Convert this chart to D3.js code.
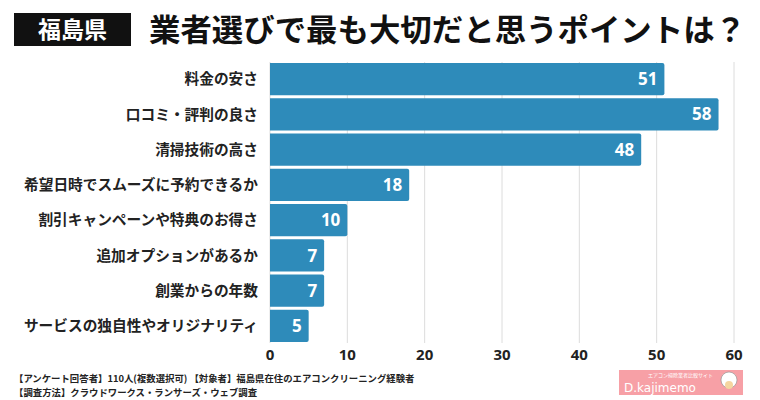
<!DOCTYPE html>
<html><head><meta charset="utf-8">
<script src="https://cdn.jsdelivr.net/npm/d3@7"></script>
<style>body{margin:0;background:#fff;}svg{display:block;font-family:"Noto Sans CJK JP","Noto Sans",sans-serif;}</style>
</head><body><svg id="c" width="760" height="400"></svg>
<script>
const categories = ["料金の安さ","口コミ・評判の良さ","清掃技術の高さ","希望日時でスムーズに予約できるか","割引キャンペーンや特典のお得さ","追加オプションがあるか","創業からの年数","サービスの独自性やオリジナリティ"];
const values = [51,58,48,18,10,7,7,5];
const xTicks = [0,10,20,30,40,50,60];
const badgeText = "福島県";
const titleText = "業者選びで最も大切だと思うポイントは？";
const footnotes = ["【アンケート回答者】110人(複数選択可) 【対象者】福島県在住のエアコンクリーニング経験者","【調査方法】クラウドワークス・ランサーズ・ウェブ調査"];

const svg = d3.select("#c");
const x = d3.scaleLinear().domain([0,60]).range([270,734]);
const y = d3.scaleBand().domain(categories).range([62,343]).paddingInner(0.09).paddingOuter(0.03);

// grid
svg.append("g").selectAll("line").data(xTicks).join("line")
  .attr("x1",d=>x(d)).attr("x2",d=>x(d)).attr("y1",62).attr("y2",343)
  .attr("stroke","#dcdcdc").attr("stroke-width",1);

// bars
svg.append("g").selectAll("path").data(values).join("path")
  .attr("fill","#2e8bba")
  .attr("d",(d,i)=>{
    const x0=x(0), x1=x(d), y0=y(categories[i]), h=y.bandwidth(), r=2;
    return `M${x0},${y0}H${x1-r}Q${x1},${y0} ${x1},${y0+r}V${y0+h-r}Q${x1},${y0+h} ${x1-r},${y0+h}H${x0}Z`;
  });

// value labels
svg.append("g").selectAll("text").data(values).join("text")
  .attr("x",d=>x(d)-7).attr("y",(d,i)=>y(categories[i])+y.bandwidth()/2)
  .attr("dy","0.36em").attr("text-anchor","end")
  .attr("fill","#fff").attr("font-size",17).attr("font-weight",700)
  .attr("font-family","'Noto Sans','Noto Sans CJK JP',sans-serif")
  .text(d=>d);

// category labels
svg.append("g").selectAll("text").data(categories).join("text")
  .attr("x",258).attr("y",d=>y(d)+y.bandwidth()/2).attr("dy","0.36em")
  .attr("text-anchor","end").attr("font-size",14.7).attr("font-weight",700).attr("fill","#222")
  .text(d=>d);

// x axis tick labels
svg.append("g").selectAll("text").data(xTicks).join("text")
  .attr("x",d=>x(d)).attr("y",355).attr("dy","0.36em").attr("text-anchor","middle")
  .attr("font-size",15).attr("font-weight",700).attr("fill","#222")
  .attr("font-family","'Noto Sans','Noto Sans CJK JP',sans-serif")
  .text(d=>d);

// title
svg.append("rect").attr("x",14).attr("y",13).attr("width",117).attr("height",33).attr("fill","#111");
svg.append("text").attr("x",72.5).attr("y",30).attr("dy","0.36em").attr("text-anchor","middle")
  .attr("fill","#fff").attr("font-size",23).attr("font-weight",700).text(badgeText);
svg.append("text").attr("x",149).attr("y",30).attr("dy","0.36em")
  .attr("fill","#111").attr("font-size",31).attr("font-weight",700)
  .attr("textLength",597).attr("lengthAdjust","spacingAndGlyphs").text(titleText);

// footnotes
svg.append("g").selectAll("text").data(footnotes).join("text")
  .attr("x",14).attr("y",(d,i)=>379+i*14).attr("dy","0.36em")
  .attr("font-size",9.4).attr("font-weight",700).attr("fill","#222").text(d=>d);

// logo
const lg = svg.append("g");
lg.append("rect").attr("x",619).attr("y",370).attr("width",124).attr("height",25).attr("fill","#f7a0a6");
lg.append("text").attr("x",624).attr("y",392).attr("fill","#fff").attr("font-size",12)
  .attr("font-family","'DejaVu Sans',sans-serif").text("D.kajimemo");
lg.append("text").attr("x",648).attr("y",377).attr("fill","#fff").attr("font-size",5).text("エアコン掃除業者比較サイト");
lg.append("circle").attr("cx",729).attr("cy",380).attr("r",8).attr("fill","#fff").attr("stroke","#888").attr("stroke-width",0.6);
lg.append("circle").attr("cx",729).attr("cy",385).attr("r",4).attr("fill","#f5d6a0");
</script></body></html>
